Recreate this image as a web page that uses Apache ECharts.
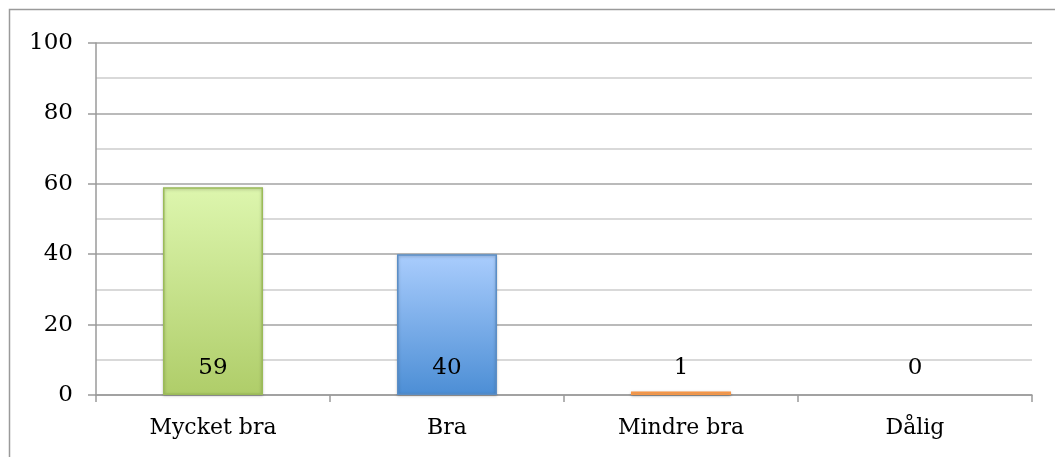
<!DOCTYPE html>
<html>
<head>
<meta charset="utf-8">
<script src="https://cdn.jsdelivr.net/npm/echarts@6/dist/echarts.min.js"></script>
<style>
  html, body { margin: 0; padding: 0; background: #fff; }
  #main { width: 1055px; height: 457px; }
</style>
</head>
<body>
<div id="main"></div>
<script>
const categories = ["Mycket bra", "Bra", "Mindre bra", "Dålig"];
const values = [59, 40, 1, 0];
const yTicks = [0, 20, 40, 60, 80, 100];

const barColors = [
  { top: "#ddf6ae", bottom: "#afcd69", border: "#9bbb59" },
  { top: "#aacdfd", bottom: "#4c8ed5", border: "#5b8ec6" },
  { top: "#f9bd8a", bottom: "#f7ad6c", border: "#f79646" },
  { top: "#d0d0d0", bottom: "#b0b0b0", border: "#999999" }
];

const font = "DejaVu Serif";

var myChart = echarts.init(document.getElementById("main"));
var option = {
  animation: false,
  graphic: [
    {
      type: "rect",
      shape: { x: 9.5, y: 9.5, width: 1200, height: 600 },
      style: { fill: "none", stroke: "#9a9a9a", lineWidth: 1.5 },
      silent: true
    }
  ],
  grid: { left: 96, right: 23, top: 43, bottom: 62 },
  xAxis: {
    type: "category",
    data: categories,
    axisLine: { show: true, lineStyle: { color: "#9a9a9a", width: 1.5 } },
    axisTick: { show: true, alignWithLabel: false, length: 7, lineStyle: { color: "#9a9a9a", width: 1.5 } },
    axisLabel: { color: "#000", fontFamily: font, fontSize: 22, margin: 22 }
  },
  yAxis: {
    type: "value",
    min: yTicks[0],
    max: yTicks[yTicks.length - 1],
    interval: 20,
    axisLine: { show: true, lineStyle: { color: "#9a9a9a", width: 1.5 } },
    axisTick: { show: true, length: 8, lineStyle: { color: "#9a9a9a", width: 1.5 } },
    axisLabel: { color: "#000", fontFamily: font, fontSize: 23, margin: 23 },
    splitLine: { show: true, lineStyle: { color: "#a3a3a3", width: 1.5 } },
    minorTick: { show: false, splitNumber: 2 },
    minorSplitLine: { show: true, lineStyle: { color: "#cdcdcd", width: 1.5 } }
  },
  series: [
    {
      type: "bar",
      barWidth: 100,
      data: values.map(function (v, i) {
        var c = barColors[i];
        return {
          value: v,
          itemStyle: {
            color: new echarts.graphic.LinearGradient(0, 0, 0, 1, [
              { offset: 0, color: c.top },
              { offset: 1, color: c.bottom }
            ]),
            borderColor: c.border,
            borderWidth: v > 0 ? 1.5 : 0,
            shadowColor: v > 0 ? "rgba(0,0,0,0.25)" : "transparent",
            shadowBlur: v > 0 ? 3 : 0,
            shadowOffsetY: 1
          }
        };
      }),
      label: {
        show: true,
        position: "insideBottom",
        distance: 15,
        color: "#000",
        fontFamily: font,
        fontSize: 23
      }
    }
  ]
};
myChart.setOption(option);
</script>
</body>
</html>
